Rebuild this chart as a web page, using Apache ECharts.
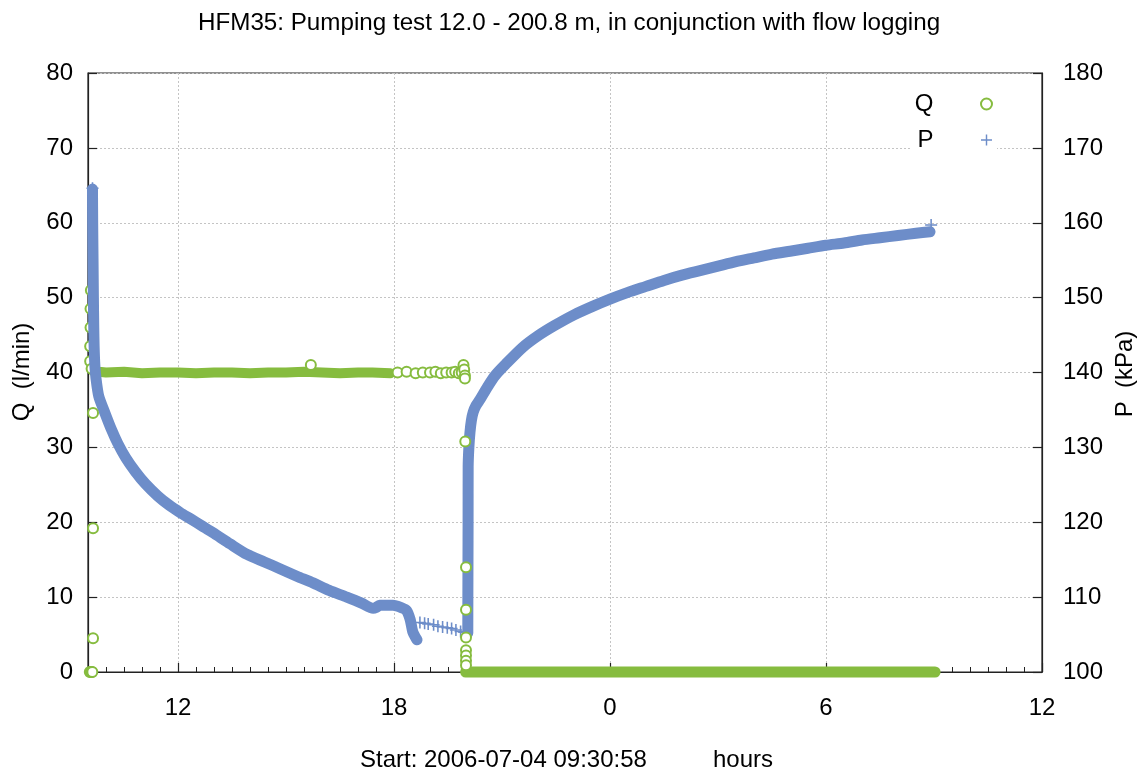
<!DOCTYPE html>
<html><head><meta charset="utf-8">
<script src="https://cdn.jsdelivr.net/npm/echarts@6/dist/echarts.min.js"></script>
<style>html,body{margin:0;padding:0;background:#fff}#c{width:1145px;height:774px}</style>
</head><body><div id="c"></div>
<script>
const titleText = 'HFM35: Pumping test 12.0 - 200.8 m, in conjunction with flow logging';
const xNameLeft = 'Start: 2006-07-04 09:30:58';
const xNameRight = 'hours';
const qName = 'Q  (l/min)';
const pName = 'P  (kPa)';
const xRange = [9.5, 36];
const xTickHours = [12, 18, 24, 30, 36];
const xTickLabels = ['12', '18', '0', '6', '12'];
const qTicks = [0, 10, 20, 30, 40, 50, 60, 70, 80];
const pTicks = [100, 110, 120, 130, 140, 150, 160, 170, 180];

// Q (l/min): dense flat band during pumping
const qBandTime = [9.64, 9.8, 10.0, 10.5, 11.0, 11.5, 12.0, 12.5, 13.0, 13.5, 14.0, 14.5, 15.0, 15.5, 16.0, 16.5, 17.0, 17.4, 17.9];
const qBandVal  = [40.2, 40.1, 40.0, 40.1, 39.9, 40.0, 40.0, 39.9, 40.0, 40.0, 39.9, 40.0, 40.0, 40.1, 40.0, 39.9, 40.0, 40.0, 39.9];
// Q (l/min): dense zero band after pump stop
const qZeroTime = [19.99, 22.0, 24.0, 26.0, 28.0, 30.0, 32.0, 33.03];
const qZeroVal  = [0, 0, 0, 0, 0, 0, 0, 0];
// Q (l/min): readings hidden under the pressure curve at start
const qHiddenTime = [9.56, 9.56, 9.57, 9.57, 9.58, 9.6];
const qHiddenVal  = [41.5, 43.5, 46.0, 48.5, 51.0, 40.5];
// Q (l/min): individual readings
const qPointTime = [9.55, 9.58, 9.6, 9.62, 9.64, 9.64, 9.64,
  15.69, 18.1, 18.35, 18.6, 18.8, 19.0, 19.15, 19.3, 19.45, 19.6, 19.7, 19.8, 19.88,
  19.93, 19.95, 19.97, 19.97, 19.98, 20.0, 20.0, 20.0, 20.0, 20.0, 20.0, 20.0];
const qPointVal = [0, 0, 0, 0, 4.5, 19.2, 34.6,
  41.0, 40.0, 40.1, 39.9, 40.0, 40.0, 40.1, 39.9, 40.0, 40.0, 40.1, 39.9, 40.0,
  41.0, 40.4, 39.6, 39.2, 30.8, 14.0, 8.3, 4.6, 2.9, 2.2, 1.5, 0.9];

// P (kPa): drawdown curve while pumping
const pDownTime = [9.625, 9.63, 9.64, 9.65, 9.66, 9.67, 9.69, 9.72, 9.80, 9.97, 10.15, 10.33, 10.55, 10.81, 11.1, 11.44, 11.75, 12.06, 12.37, 12.67, 12.97, 13.45, 13.92, 14.4, 14.83, 15.3, 15.75, 16.2, 16.69, 17.1, 17.42, 17.5, 17.6, 17.97, 18.2, 18.35, 18.45, 18.52, 18.6, 18.64];
const pDownVal  = [164.5, 160.0, 155.0, 150.0, 146.0, 143.5, 141.0, 139.3, 136.8, 134.6, 132.4, 130.5, 128.6, 126.8, 125.1, 123.5, 122.3, 121.3, 120.4, 119.5, 118.6, 117.1, 115.7, 114.7, 113.8, 112.8, 111.9, 110.9, 110.0, 109.2, 108.5, 108.6, 108.9, 108.9, 108.6, 108.2, 107.0, 105.4, 104.6, 104.3];
// P (kPa): recovery curve after pump stop
const pUpTime = [20.05, 20.052, 20.055, 20.058, 20.06, 20.08, 20.11, 20.15, 20.2, 20.28, 20.39, 20.6, 20.81, 21.1, 21.56, 22.0, 22.47, 23.0, 23.5, 24.0, 24.5, 25.0, 25.5, 26.0, 26.5, 27.0, 27.5, 28.0, 28.5, 29.0, 29.5, 30.0, 30.5, 31.0, 31.5, 32.0, 32.5, 32.89];
const pUpVal  = [105.2, 110.0, 115.0, 120.0, 127.4, 130.0, 132.0, 133.6, 134.7, 135.6, 136.4, 138.1, 139.6, 141.1, 143.3, 144.9, 146.3, 147.7, 148.8, 149.8, 150.7, 151.5, 152.3, 153.0, 153.6, 154.2, 154.8, 155.3, 155.8, 156.2, 156.6, 157.0, 157.3, 157.7, 158.0, 158.3, 158.6, 158.8];
// P (kPa): individual readings
const pPointTime = [9.625, 18.72, 18.85, 18.95, 19.1, 19.22, 19.35, 19.48, 19.6, 19.72, 19.85, 19.95, 32.92];
const pPointVal  = [164.6, 106.6, 106.5, 106.4, 106.3, 106.1, 106.0, 105.9, 105.8, 105.6, 105.4, 105.3, 159.7];

const GREEN = '#86bc3f';
const BLUE = '#6d8dc9';
const FONT = '"Liberation Sans", Arial, sans-serif';
const PLUS = 'path://M4.35,0H5.65V10H4.35Z M0,4.35H10V5.65H0Z';
const GRIDLINE = {show: true, lineStyle: {color: '#c4c4c4', type: [2, 2], width: 1}};

const zip = (a, b) => a.map((v, i) => [v, b[i]]);

const chart = echarts.init(document.getElementById('c'), null, {renderer: 'canvas'});
chart.setOption({
  animation: false,
  backgroundColor: '#fff',
  textStyle: {fontFamily: FONT},
  title: {text: titleText, left: 193, top: 6,
    textStyle: {fontFamily: FONT, fontSize: 24.2, fontWeight: 'normal', color: '#000'}},
  legend: {
    data: ['Q', 'P'], orient: 'vertical', align: 'right', right: 148, top: 88,
    itemWidth: 96, itemHeight: 11, itemGap: 12, padding: [4, 4, 4, 4],
    backgroundColor: '#fff', selectedMode: false,
    textStyle: {fontFamily: FONT, fontSize: 24, lineHeight: 24, color: '#000'}
  },
  grid: [{left: 88, right: 103, top: 73, bottom: 102, show: true, borderColor: '#222', borderWidth: 1.2, backgroundColor: 'transparent'}],
  xAxis: [
    {type: 'value', gridIndex: 0, position: 'bottom', min: xRange[0], max: xRange[1], interval: 0.5,
      axisLine: {show: true, lineStyle: {color: '#222', width: 1.2}},
      axisTick: {show: true, inside: true, length: 5, lineStyle: {color: '#222', width: 1}},
      axisLabel: {show: false}, splitLine: {show: false}},
    {type: 'value', gridIndex: 0, position: 'bottom', min: xRange[0], max: xRange[1],
      axisLine: {show: false},
      axisTick: {show: true, inside: true, length: 9, customValues: xTickHours, lineStyle: {color: '#222', width: 1.2}},
      axisLabel: {show: true, margin: 24, fontSize: 24, color: '#000', fontFamily: FONT, customValues: xTickHours,
        formatter: v => { const i = xTickHours.indexOf(v); return i >= 0 ? xTickLabels[i] : ''; }},
      splitLine: GRIDLINE}
  ],
  yAxis: [
    {type: 'value', gridIndex: 0, position: 'left', min: qTicks[0], max: qTicks[qTicks.length - 1], interval: qTicks[1] - qTicks[0],
      axisLine: {show: true, lineStyle: {color: '#222', width: 1.2}},
      axisTick: {show: true, inside: true, length: 9, lineStyle: {color: '#222', width: 1.2}},
      axisLabel: {margin: 15, fontSize: 24, color: '#000', fontFamily: FONT},
      splitLine: GRIDLINE},
    {type: 'value', gridIndex: 0, position: 'right', min: pTicks[0], max: pTicks[pTicks.length - 1], interval: pTicks[1] - pTicks[0],
      axisLine: {show: true, lineStyle: {color: '#222', width: 1.2}},
      axisTick: {show: true, inside: true, length: 9, lineStyle: {color: '#222', width: 1.2}},
      axisLabel: {margin: 21, fontSize: 24, color: '#000', fontFamily: FONT},
      splitLine: {show: false}}
  ],
  graphic: [
    {type: 'text', x: 22, y: 372, rotation: Math.PI / 2,
      style: {text: qName, font: '24px ' + FONT, fill: '#000', align: 'center', verticalAlign: 'middle'}},
    {type: 'text', x: 1125, y: 374, rotation: Math.PI / 2,
      style: {text: pName, font: '24px ' + FONT, fill: '#000', align: 'center', verticalAlign: 'middle'}},
    {type: 'text', x: 360, y: 760,
      style: {text: xNameLeft, font: '24px ' + FONT, fill: '#000', align: 'left', verticalAlign: 'middle'}},
    {type: 'text', x: 713, y: 760,
      style: {text: xNameRight, font: '24px ' + FONT, fill: '#000', align: 'left', verticalAlign: 'middle'}}
  ],
  series: [
    {name: 'Q band', type: 'line', xAxisIndex: 0, yAxisIndex: 0, data: zip(qBandTime, qBandVal),
      symbol: 'none', silent: true, z: 2, clip: false,
      lineStyle: {color: GREEN, width: 10, cap: 'round', join: 'round'}},
    {name: 'Q zero', type: 'line', xAxisIndex: 0, yAxisIndex: 0, data: zip(qZeroTime, qZeroVal),
      symbol: 'none', silent: true, z: 2, clip: false,
      lineStyle: {color: GREEN, width: 11, cap: 'round', join: 'round'}},
    {name: 'Q hidden', type: 'scatter', xAxisIndex: 0, yAxisIndex: 0, data: zip(qHiddenTime, qHiddenVal),
      symbol: 'emptyCircle', symbolSize: 10, z: 2, silent: true,
      itemStyle: {color: GREEN, borderColor: GREEN, borderWidth: 1.3, opacity: 1}},
    {name: 'P down', type: 'line', xAxisIndex: 0, yAxisIndex: 1, data: zip(pDownTime, pDownVal),
      symbol: 'none', silent: true, z: 3, smooth: 0.25,
      lineStyle: {color: BLUE, width: 11, cap: 'round', join: 'round'}},
    {name: 'P up', type: 'line', xAxisIndex: 0, yAxisIndex: 1, data: zip(pUpTime, pUpVal),
      symbol: 'none', silent: true, z: 3, smooth: 0.25,
      lineStyle: {color: BLUE, width: 11, cap: 'round', join: 'round'}},
    {name: 'P', type: 'scatter', xAxisIndex: 0, yAxisIndex: 1, data: zip(pPointTime, pPointVal),
      symbol: PLUS, symbolSize: 12, z: 4, itemStyle: {color: BLUE, opacity: 1}},
    {name: 'Q', type: 'scatter', xAxisIndex: 0, yAxisIndex: 0, data: zip(qPointTime, qPointVal),
      symbol: 'emptyCircle', symbolSize: 10, z: 5, clip: false,
      itemStyle: {color: GREEN, borderColor: GREEN, borderWidth: 1.3, opacity: 1}}
  ]
});
</script></body></html>
